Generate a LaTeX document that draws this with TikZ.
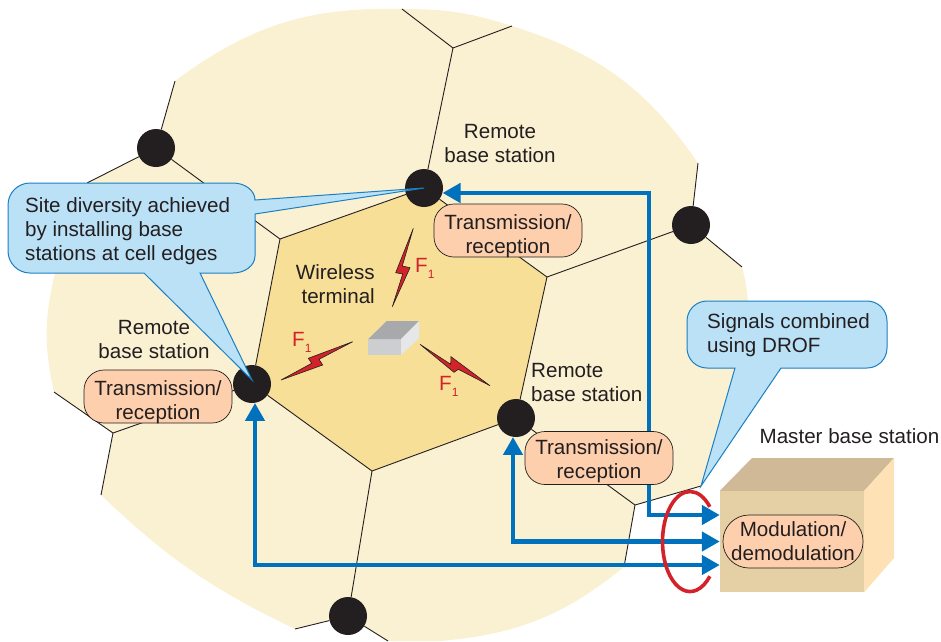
\documentclass[tikz,border=0pt]{standalone}
\usepackage{fontspec}
\setmainfont{Liberation Sans}
\usetikzlibrary{arrows.meta}
\definecolor{cellcream}{HTML}{FAF0D2}
\definecolor{cellgold}{HTML}{F7DF97}
\definecolor{inkdark}{HTML}{231F20}
\definecolor{calloutfill}{HTML}{BBE1F7}
\definecolor{calloutline}{HTML}{1B7FC4}
\definecolor{signalblue}{HTML}{0071BC}
\definecolor{pillfill}{HTML}{FDCFAD}
\definecolor{boltred}{HTML}{D2232A}
\newcommand{\Fsub}{F\raisebox{-6pt}{\fontsize{12}{12}\selectfont 1}}
\tikzset{
  every node/.style={text=inkdark, font=\fontsize{20.6}{24}\selectfont},
  celledge/.style={inkdark, line width=0.9pt},
  station/.style={circle, fill=inkdark, minimum size=38pt, inner sep=0pt},
  pill/.style={draw=inkdark, line width=0.7pt, fill=pillfill, rounded corners=20pt, minimum width=148pt, minimum height=53pt, inner sep=0pt, align=center, text depth=0pt},
  trx/.style={pill, text height=45pt},
  callout/.style={draw=calloutline, line width=1pt, fill=calloutfill},
  signal/.style={signalblue, line width=4.5pt},
  bolt/.style={draw=inkdark, line width=0.6pt, fill=boltred, line join=miter},
  flabel/.style={anchor=base west, inner sep=0pt, text=boltred}
}
\begin{document}
\begin{tikzpicture}[x=1pt, y=-1pt]
  \useasboundingbox (0,0) rectangle (941,641);

  % corners of the cells
  \foreach \n/\x/\y in {c1/402/9, c2/453/48, c3/512/26, c4/280/239, c5/547/277, c6/372/471,
      c7/113/433, c8/54/392, c9/101/495, c10/635/505, c11/701/486, c12/624/567,
      c13/698/163, c14/742/267, c15/175/81, c16/87/183, c17/295/629, c18/388/641} {
    \coordinate (\n) at (\x,\y);
  }

  % area served, with its notches
  \fill[cellcream] (c1) to[bend left=9] (c3) to[bend left=19] (c13) -- (691,225) -- (c14)
    to[bend left=6] (748,305) -- (745,368) -- (c11) -- (c10) -- (c12)
    to[bend left=17] (440,641) -- (c18) -- (348,616) -- (c17)
    to[bend left=9] (c9) -- (c7) -- (c8) to[bend left=13] (55,273) -- (c16)
    -- (156,148) -- (c15) to[bend left=19] (c1) -- cycle;

  % centre cell
  \fill[cellgold] (c4) -- (424,188) -- (c5) -- (516,418) -- (c6) -- (252,384) -- cycle;

  % base stations
  \foreach \i/\x/\y in {1/156/148, 2/424/188, 3/691/225, 4/252/384, 5/516/418, 6/348/616} {
    \node[station] (v\i) at (\x,\y) {};
  }

  % cell edges
  \foreach \a/\b in {c1/c2, c2/c3, c2/v2, v2/c4, c4/v1, v1/c15, v1/c16, v2/c5, c4/v4, v4/c6,
      c6/v5, v5/c5, c5/v3, v3/c13, v3/c14, c6/v6, v6/c17, v6/c18, v4/c7, c7/c8, c7/c9,
      v5/c10, c10/c11, c10/c12} {
    \draw[celledge] (\a) -- (\b);
  }

  % master base station
  \node[minimum width=144pt, minimum height=101pt, inner sep=0pt, fill={rgb,255:red,229;green,207;blue,165}] (mbs) at (792,541.5) {};
  \fill[fill={rgb,255:red,207;green,185;blue,151}] (mbs.north west) -- (752,458) -- (894,458) -- (mbs.north east) -- cycle;
  \fill[fill={rgb,255:red,254;green,226;blue,181}] (mbs.north east) -- (894,458) -- (894,558) -- (mbs.south east) -- cycle;
  \node[pill, minimum width=140pt, rounded corners=26pt] (modem) at (793,541.5) {Modulation/\\demodulation};
  \node (mbslabel) at (849.5,436) {Master base station};

  % signal paths
  \coordinate (mbsa) at ([yshift=26.5pt]mbs.west);
  \coordinate (mbsb) at (mbs.west);
  \coordinate (mbsc) at ([yshift=-23.5pt]mbs.west);
  \coordinate (benda) at (649,515);
  \draw[signal, {Triangle[length=18pt,width=19pt]}-{Triangle[length=18pt,width=19pt]}] (v2.-15) -| (benda) -- (mbsa);
  \draw[signal, {Triangle[length=18pt,width=19pt]}-{Triangle[length=18pt,width=19pt]}] (v5.-99) |- (mbsb);
  \draw[signal, {Triangle[length=18pt,width=19pt]}-{Triangle[length=18pt,width=19pt]}] (v4.-81) |- (mbsc);

  % transmission boxes
  \node[trx] (trxtop) at (508,230.5) {Transmission/\\reception};
  \node[trx] (trxleft) at (158,396.5) {Transmission/\\reception};
  \node[trx, text height=41pt] (trxright) at (599,458) {Transmission/\\reception};

  % labels
  \node[align=center] (rbstop) at (500,144) {Remote\\base station};
  \node[align=center] (rbsleft) at (154,340) {Remote\\base station};
  \node[align=left, anchor=west, inner sep=0pt] (rbsright) at (531,383) {Remote\\base station};
  \node[align=right, anchor=east, inner sep=0pt] (wireless) at (375,284) {Wireless\\terminal};

  % callouts
  \draw[callout] (30,183) -- (233,183) arc[start angle=90, end angle=0, x radius=22pt, y radius=17pt]
    -- (255,200) -- (v2.center) -- (255,214) -- (255,256)
    arc[start angle=0, end angle=-90, x radius=22pt, y radius=17pt]
    -- (200,273) -- ([yshift=4pt]v4.center) -- (144,273) -- (30,273)
    arc[start angle=-90, end angle=-180, radius=22pt] -- (8,205)
    arc[start angle=180, end angle=90, radius=22pt] -- cycle;
  \node[align=left, anchor=west, inner sep=0pt] (sitetext) at (25,231) {Site diversity achieved\\by installing base\\stations at cell edges};

  \draw[callout] (707,301) -- (867,301) arc[start angle=90, end angle=0, radius=20pt] -- (887,348)
    arc[start angle=0, end angle=-90, radius=20pt] -- (781,368) -- (c11) -- (735,368) -- (707,368)
    arc[start angle=-90, end angle=-180, radius=20pt] -- (687,321)
    arc[start angle=180, end angle=90, radius=20pt] -- cycle;
  \node[align=left, anchor=west, inner sep=0pt] (droftext) at (707,335) {Signals combined\\using DROF};

  % wireless terminal
  \fill[fill={rgb,255:red,205;green,206;blue,208}] (368.3,339) rectangle (401,355);
  \fill[fill={rgb,255:red,167;green,169;blue,172}] (368.3,339) -- (386.7,321) -- (419,321) -- (401,339) -- cycle;
  \fill[fill={rgb,255:red,230;green,231;blue,232}] (401,339) -- (419,321) -- (419,338.3) -- (401,355) -- cycle;

  % radio links
  \draw[bolt] (413.3,228.3) -- (395.7,272.7) -- (402.7,274) -- (392.3,306.7) -- (410,267.7) -- (402.3,266) -- cycle;
  \draw[bolt] (352.7,341.7) -- (308.3,358.3) -- (311.7,363.3) -- (281,380) -- (322.7,365) -- (319,359.3) -- cycle;
  \draw[bolt] (420,344.3) -- (450.7,364.3) -- (451,356.7) -- (490,385.7) -- (458.3,369.3) -- (454,372.3) -- cycle;
  \node[flabel] (ftop) at (415,272) {\Fsub};
  \node[flabel] (fleft) at (292,346) {\Fsub};
  \node[flabel] (fright) at (439,390) {\Fsub};

  % signals combined
  \draw[boltred, line width=3.6pt] (709.8,506.8) arc[start angle=44, end angle=316, x radius=27.5pt, y radius=50pt];
\end{tikzpicture}
\end{document}
